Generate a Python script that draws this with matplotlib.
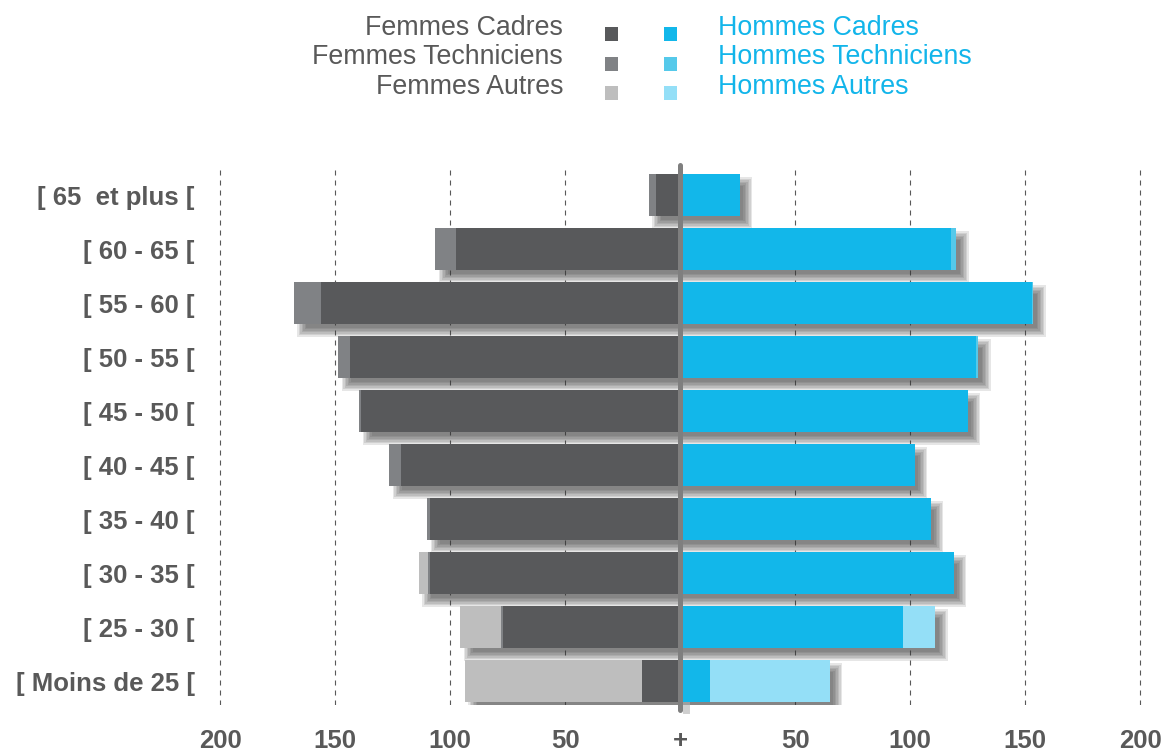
import numpy as np
import matplotlib
matplotlib.use("Agg")
import matplotlib.pyplot as plt
from matplotlib import transforms
from matplotlib.patches import Rectangle

# -----------------------------------------------------
# données : pyramide des âges par catégorie
# -----------------------------------------------------
tranches = ["[ 65  et plus [", "[ 60 - 65 [", "[ 55 - 60 [", "[ 50 - 55 [",
            "[ 45 - 50 [", "[ 40 - 45 [", "[ 35 - 40 [", "[ 30 - 35 [",
            "[ 25 - 30 [", "[ Moins de 25 ["]

femmes_cadres = [10.5, 97.5, 156, 143.5, 138.5, 121.5, 108.5, 108.5, 77, 16.5]
femmes_tech = [3, 9, 12, 5, 1, 5, 1.5, 1, 1, 0]
femmes_autres = [0, 0, 0, 0, 0, 0, 0, 4, 17.5, 77]

hommes_cadres = [26, 118, 153, 128.5, 125, 102, 109, 119, 97, 13]
hommes_tech = [0, 2, 0.5, 1.2, 0, 0, 0, 0, 0, 0]
hommes_autres = [0, 0, 0, 0, 0, 0, 0, 0, 14, 52]

graduations = [-200, -150, -100, -50, 0, 50, 100, 150, 200]
etiquettes_x = ["200", "150", "100", "50", "+", "50", "100", "150", "200"]

COUL_F = ["#58595b", "#808285", "#bebebe"]
COUL_H = ["#12b7ea", "#55c9ea", "#94dff7"]
GRIS_TXT = "#595959"
BLEU_TXT = "#12b5ea"

plt.rcParams["font.family"] = ["Liberation Sans", "DejaVu Sans"]

W, H = 1162, 751
fig = plt.figure(figsize=(W / 100, H / 100), dpi=100)

# zone de tracé (en pixels : x 210..1150, y 165..705)
ax = fig.add_axes([210 / W, (H - 705) / H, 940 / W, 540 / H])
xlim = (-470 / 2.3, 470 / 2.3)
ylim = (-24 / 54, 9 + 30 / 54)
ax.set_xlim(*xlim)
ax.set_ylim(*ylim)

px_x = 940 / (xlim[1] - xlim[0])   # pixels par unité en x
px_y = 540 / (ylim[1] - ylim[0])   # pixels par unité en y

y = np.arange(len(tranches))[::-1]
h = 0.78

fc = np.array(femmes_cadres)
ft = np.array(femmes_tech)
fa = np.array(femmes_autres)
hc = np.array(hommes_cadres)
ht = np.array(hommes_tech)
ha = np.array(hommes_autres)

# ---- ombres portées (flou approximé par couches) ----
ombre = transforms.offset_copy(ax.transData, fig=fig, x=8, y=-8, units="dots")
gauche = -(fc + ft + fa)
droite = hc + ht + ha
for yi, g, d in zip(y, gauche, droite):
    for k in range(7):
        grow = 4.5 - 1.5 * k
        ax.add_patch(Rectangle((g - grow / px_x, yi - h / 2 - grow / px_y),
                               (d - g) + 2 * grow / px_x, h + 2 * grow / px_y,
                               transform=ombre, facecolor="#383838",
                               alpha=0.12, lw=0, zorder=1))

# ombre de l'axe central
ax.plot([6 / px_x, 6 / px_x], [ylim[0] - 5 / px_y, y[-1]], color="#b0b0b0",
        lw=5, alpha=0.6, zorder=1, clip_on=False)

# ---- barres femmes (vers la gauche) ----
ax.barh(y, -fc, height=h, color=COUL_F[0], zorder=3)
ax.barh(y, -ft, left=-fc, height=h, color=COUL_F[1], zorder=3)
ax.barh(y, -fa, left=-(fc + ft), height=h, color=COUL_F[2], zorder=3)

# ---- barres hommes (vers la droite) ----
ax.barh(y, hc, height=h, color=COUL_H[0], zorder=3)
ax.barh(y, ht, left=hc, height=h, color=COUL_H[1], zorder=3)
ax.barh(y, ha, left=hc + ht, height=h, color=COUL_H[2], zorder=3)

# ---- axe central ----
ax.plot([0, 0], [ylim[0] - 5 / px_y, ylim[1]], color="#7f7f7f", lw=3.6,
        solid_capstyle="round", zorder=5, clip_on=False)

# ---- grille et graduations ----
ax.set_xticks(graduations)
ax.set_xticklabels(etiquettes_x)
ax.grid(axis="x", color=GRIS_TXT, lw=0.8, linestyle=(0, (4.5, 4.5)), zorder=2)
ax.set_axisbelow(True)
ax.set_yticks(y)
ax.set_yticklabels(tranches)
ax.tick_params(length=0, colors=GRIS_TXT, labelsize=18.5)
ax.tick_params(axis="y", pad=11)
ax.tick_params(axis="x", pad=17)
for lab in ax.get_xticklabels() + ax.get_yticklabels():
    lab.set_fontweight("bold")
for s in ax.spines.values():
    s.set_visible(False)

# ---- légende ----
leg = fig.add_axes([0, 0, 1, 1], zorder=-1)
leg.set_xlim(0, W)
leg.set_ylim(H, 0)
leg.axis("off")
noms_f = ["Femmes Cadres", "Femmes Techniciens", "Femmes Autres"]
noms_h = ["Hommes Cadres", "Hommes Techniciens", "Hommes Autres"]
for i in range(3):
    base = 35 + 29.5 * i
    leg.text(563, base, noms_f[i], ha="right", va="baseline",
             fontsize=19.3, color=GRIS_TXT)
    leg.text(718, base, noms_h[i], ha="left", va="baseline",
             fontsize=19.3, color=BLEU_TXT)
    leg.add_patch(Rectangle((605, 27 + 29.6 * i), 13, 14, color=COUL_F[i], lw=0))
    leg.add_patch(Rectangle((664, 27 + 29.6 * i), 13, 14, color=COUL_H[i], lw=0))

fig.savefig("out.png", dpi=100)
